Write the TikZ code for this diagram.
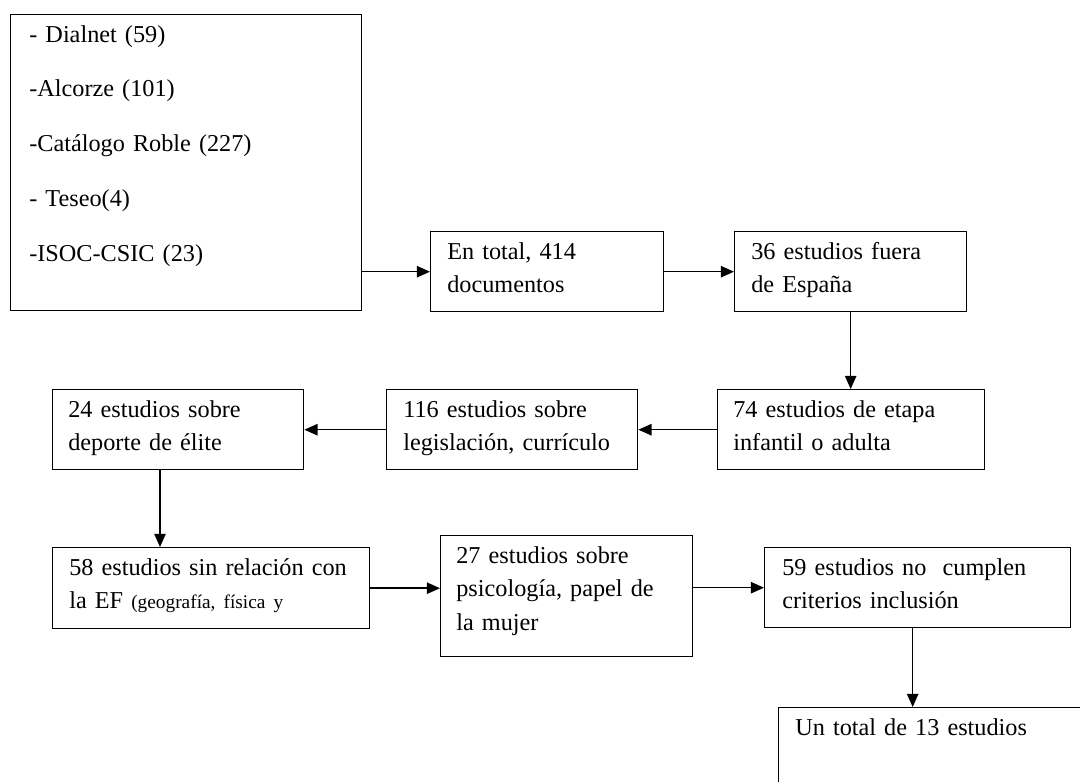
\documentclass[tikz,border=0pt]{standalone}
\usepackage{fontspec}
\setmainfont{Liberation Serif}
\usetikzlibrary{arrows.meta,calc}
\tikzset{
  box/.style={draw,line width=0.8pt,anchor=north west,inner sep=0pt},
  boxtext/.style={anchor=base west,inner sep=0pt,text width=9cm,align=left,
    font=\fontsize{13.8pt}{19.3pt}\selectfont},
  arr/.style={-{Triangle[length=7.5pt,width=6.5pt]},line width=0.8pt}
}
\begin{document}
\begin{tikzpicture}[x=0.02cm,y=-0.02cm]
\clip (0,0) rectangle (1080,782);
\fill[white] (0,0) rectangle (1080,782);
% fuentes
\node[box,minimum width=7.02cm,minimum height=5.92cm] (src) at (10,14) {};
\node[boxtext,font=\fontsize{13.8pt}{31.2pt}\selectfont] (src-t) at ($(src.north west)+(19,28)$)
  {- Dialnet (59)\\-Alcorze (101)\\-Catálogo Roble (227)\\- Teseo(4)\\-ISOC-CSIC (23)};
% primera fila
\node[box,minimum width=4.66cm,minimum height=1.6cm] (tot) at (430,231) {};
\node[boxtext] (tot-t) at ($(tot.north west)+(17,28)$) {En total, 414\\documentos};
\node[box,minimum width=4.64cm,minimum height=1.6cm] (e36) at (734,231) {};
\node[boxtext] (e36-t) at ($(e36.north west)+(17,28)$) {36 estudios fuera\\de España};
% segunda fila
\node[box,minimum width=5.34cm,minimum height=1.6cm] (e74) at (717,389) {};
\node[boxtext] (e74-t) at ($(e74.north west)+(16,28)$) {74 estudios de etapa\\infantil o adulta};
\node[box,minimum width=5.02cm,minimum height=1.6cm] (e116) at (386,389) {};
\node[boxtext] (e116-t) at ($(e116.north west)+(17,28)$) {116 estudios sobre\\legislación, currículo};
\node[box,minimum width=5.02cm,minimum height=1.6cm] (e24) at (52,389) {};
\node[boxtext] (e24-t) at ($(e24.north west)+(16,28)$) {24 estudios sobre\\deporte de élite};
% tercera fila
\node[box,minimum width=6.34cm,minimum height=1.62cm] (e58) at (52,547) {};
\node[boxtext] (e58-t) at ($(e58.north west)+(17,28)$)
  {58 estudios sin relación con\\la EF {\fontsize{11pt}{19.3pt}\selectfont(geografía, física y}};
\node[box,minimum width=5.04cm,minimum height=2.42cm] (e27) at (440,535) {};
\node[boxtext] (e27-t) at ($(e27.north west)+(16,28)$) {27 estudios sobre\\psicología, papel de\\la mujer};
\node[box,minimum width=6.12cm,minimum height=1.6cm] (e59) at (764,547) {};
\node[boxtext] (e59-t) at ($(e59.north west)+(18,28)$) {59 estudios no~ cumplen\\criterios inclusión};
\node[box,minimum width=6.44cm,minimum height=1.86cm] (end) at (778,707) {};
\node[boxtext] (end-t) at ($(end.north west)+(17,28)$) {Un total de 13 estudios};
% flechas
\draw[arr] (tot.west -| src.east) -- (tot.west);
\draw[arr] (tot.east) -- (e36.west);
\draw[arr] (e36.south) -- (e36.south |- e74.north);
\draw[arr] (e74.west) -- (e116.east);
\draw[arr] (e116.west) -- (e24.east);
\coordinate (c24) at ($(e24.south west)+(108,0)$);
\draw[arr] (c24) -- (c24 |- e58.north);
\draw[arr] (e58.east) -- (e58.east -| e27.west);
\draw[arr] (e59.west -| e27.east) -- (e59.west);
\coordinate (c59) at ($(e59.south)+(-5,0)$);
\draw[arr] (c59) -- (c59 |- end.north);
\end{tikzpicture}
\end{document}
